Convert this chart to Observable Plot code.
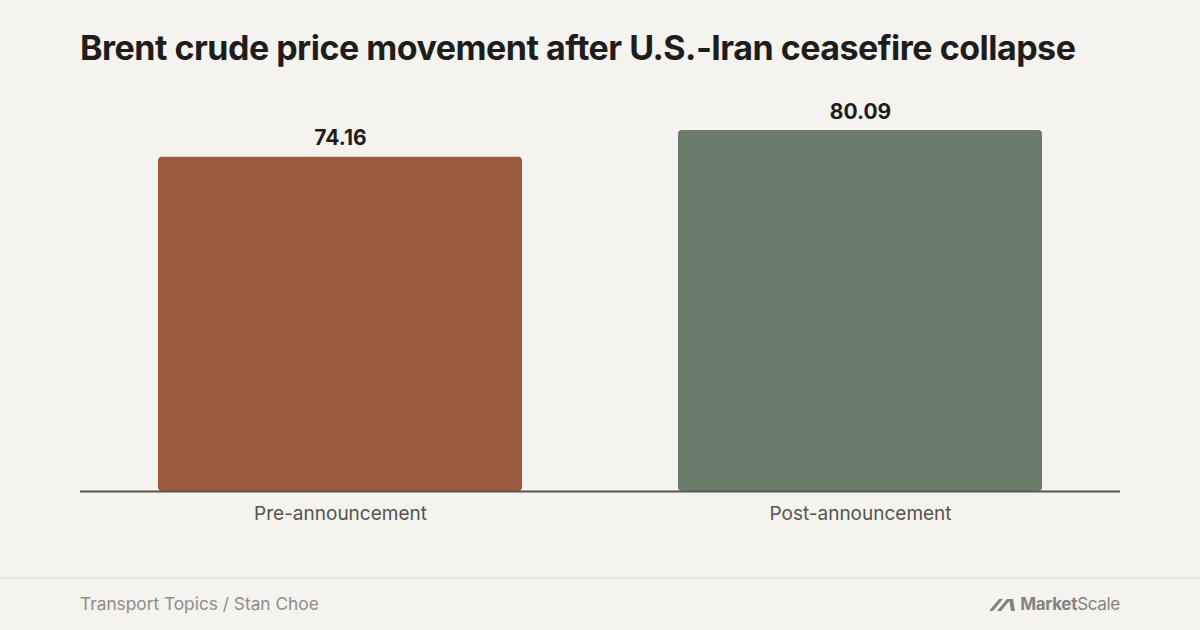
<!DOCTYPE html>
<html>
<head>
<meta charset="utf-8">
<script src="https://cdn.jsdelivr.net/npm/d3@7"></script>
<script src="https://cdn.jsdelivr.net/npm/@observablehq/plot@0.6"></script>
<style>
  html, body { margin: 0; padding: 0; }
  body { width: 1200px; height: 630px; background: #f4f3ef; font-family: Inter, "Noto Sans", sans-serif; position: relative; overflow: hidden; }
  #title { position: absolute; left: 80px; top: 27px; font-size: 34px; font-weight: 700; color: #1e1d1b; letter-spacing: -0.5px; white-space: nowrap; }
  #chart { position: absolute; left: 0; top: 80px; }
  #footer { position: absolute; left: 0; top: 577px; width: 1200px; height: 53px; border-top: 2px solid #e8e6e1; }
  #source { position: absolute; left: 80px; top: 14px; font-size: 17.3px; color: #8f8c86; }
  #logo { position: absolute; right: 80px; top: 15px; font-size: 17px; color: #85827d; display: flex; align-items: center; letter-spacing: -0.3px; }
  #logo b { font-weight: 700; }
</style>
</head>
<body>
<div id="title">Brent crude price movement after U.S.-Iran ceasefire collapse</div>
<div id="chart"></div>
<div id="footer">
  <div id="source">Transport Topics / Stan Choe</div>
  <div id="logo">
    <svg width="28" height="14" viewBox="0 0 28 14" style="margin-right:3px">
      <path d="M0 14 L10 2 L14 2 L4 14 Z M8 14 L18 2 L22 2 L12 14 Z M20 2 L24 2 L26 14 L22 14 Z" fill="#85827d"/>
    </svg>
    <b>Market</b><span>Scale</span>
  </div>
</div>
<script>
const phases = ["Pre-announcement", "Post-announcement"];
const prices = [74.16, 80.09];
const colors = ["#9a5a3d", "#6b7d6a"];

const data = phases.map((p, i) => ({phase: p, price: prices[i]}));

const chart = Plot.plot({
  width: 1200,
  height: 460,
  marginLeft: 80,
  marginRight: 80,
  marginTop: 14,
  marginBottom: 49,
  style: {
    background: "transparent",
    fontFamily: "Inter, 'Noto Sans', sans-serif",
    overflow: "visible"
  },
  x: {domain: phases, paddingInner: 0.3, paddingOuter: 0.15, label: null, axis: null},
  y: {domain: [0, 88.1], axis: null},
  color: {domain: phases, range: colors},
  marks: [
    Plot.barY(data, {x: "phase", y: "price", fill: "phase", rx: 4}),
    Plot.ruleY([0], {stroke: "#5a554f", strokeWidth: 2}),
    Plot.text(data, {
      x: "phase", y: "price", text: d => d.price.toFixed(2),
      lineAnchor: "bottom", dy: -12, fontSize: 21, fontWeight: 700, fill: "#1e1d1b"
    }),
    Plot.axisX({tickSize: 0, tickPadding: 15, fontSize: 19, color: "#57534e", label: null})
  ]
});

d3.select("#chart").append(() => chart);
</script>
</body>
</html>
